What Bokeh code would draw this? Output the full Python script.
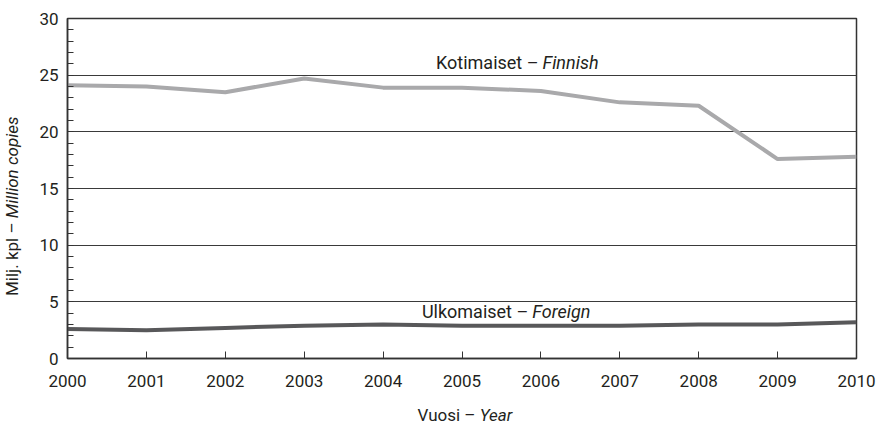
from bokeh.plotting import figure
from bokeh.models import Label, Div, SingleIntervalTicker, FixedTicker
from bokeh.layouts import row, column
from bokeh.embed import file_html
from bokeh.resources import INLINE

years = [2000, 2001, 2002, 2003, 2004, 2005, 2006, 2007, 2008, 2009, 2010]
finnish = [24.1, 24.0, 23.5, 24.7, 23.9, 23.9, 23.6, 22.6, 22.3, 17.6, 17.8]
foreign = [2.6, 2.5, 2.7, 2.9, 3.0, 2.9, 2.9, 2.9, 3.0, 3.0, 3.2]

FONT = "Roboto"
TXT = "#231f20"

p = figure(frame_width=789, frame_height=340, x_range=(2000, 2010), y_range=(0, 30),
           output_backend="svg", toolbar_location=None, margin=0,
           min_border_left=37, min_border_right=20, min_border_top=18, min_border_bottom=40)
p.outline_line_color = "#333333"
p.outline_line_width = 1.5

p.line(years, finnish, line_color="#a9a9ab", line_width=4)
p.line(years, foreign, line_color="#58585a", line_width=4)

p.yaxis.ticker = SingleIntervalTicker(interval=5, num_minor_ticks=5)
p.yaxis.axis_line_color = "#333333"
p.yaxis.axis_line_width = 1.5
p.yaxis.major_tick_in = 0
p.yaxis.major_tick_out = 0
p.yaxis.minor_tick_in = 6
p.yaxis.minor_tick_out = 0
p.yaxis.minor_tick_line_color = "#333333"
p.yaxis.major_label_text_font = FONT
p.yaxis.major_label_text_font_size = "17px"
p.yaxis.major_label_text_color = TXT
p.yaxis.major_label_standoff = 9

p.xaxis.ticker = FixedTicker(ticks=years)
p.xaxis.axis_line_color = "#333333"
p.xaxis.axis_line_width = 1.5
p.xaxis.major_tick_in = 7
p.xaxis.major_tick_out = 0
p.xaxis.major_tick_line_color = "#333333"
p.xaxis.minor_tick_line_color = None
p.xaxis.major_label_text_font = FONT
p.xaxis.major_label_text_font_size = "17px"
p.xaxis.major_label_text_color = TXT
p.xaxis.major_label_standoff = 16

p.xgrid.grid_line_color = None
p.ygrid.ticker = SingleIntervalTicker(interval=5)
p.ygrid.grid_line_color = "#3a3a3a"
p.ygrid.grid_line_width = 1

def pair(x, y, a, b, gap=0.05, size="18px"):
    p.add_layout(Label(x=x - gap, y=y, text=a, text_align="right", text_baseline="alphabetic",
                       text_font=FONT, text_font_size=size, text_color=TXT))
    p.add_layout(Label(x=x, y=y, text=b, text_align="left", text_baseline="alphabetic",
                       text_font=FONT, text_font_size=size, text_color=TXT,
                       text_font_style="italic"))

pair(2006.02, 26.1, "Kotimaiset –", "Finnish")
pair(2005.89, 4.15, "Ulkomaiset –", "Foreign")

ylab = Div(width=30, height=412, margin=0,
           text=('<div style="writing-mode:vertical-rl;transform:rotate(180deg);height:412px;'
                 'text-align:center;font-family:Roboto;font-size:17px;color:#231f20;'
                 'line-height:20px;margin-left:2px;white-space:nowrap">'
                 'Milj. kpl – <i>Million copies</i></div>'))
xlab = Div(width=846, height=34, margin=0,
           text=('<div style="width:788px;text-align:center;padding-left:58px;font-family:Roboto;'
                 'font-size:17px;color:#231f20;line-height:34px;white-space:nowrap">'
                 '<span style="position:relative;left:12px">Vuosi – <i>Year</i></span></div>'))

layout = row(ylab, column(p, xlab, spacing=0), spacing=0)

open("out.html", "w").write(file_html(layout, INLINE))
